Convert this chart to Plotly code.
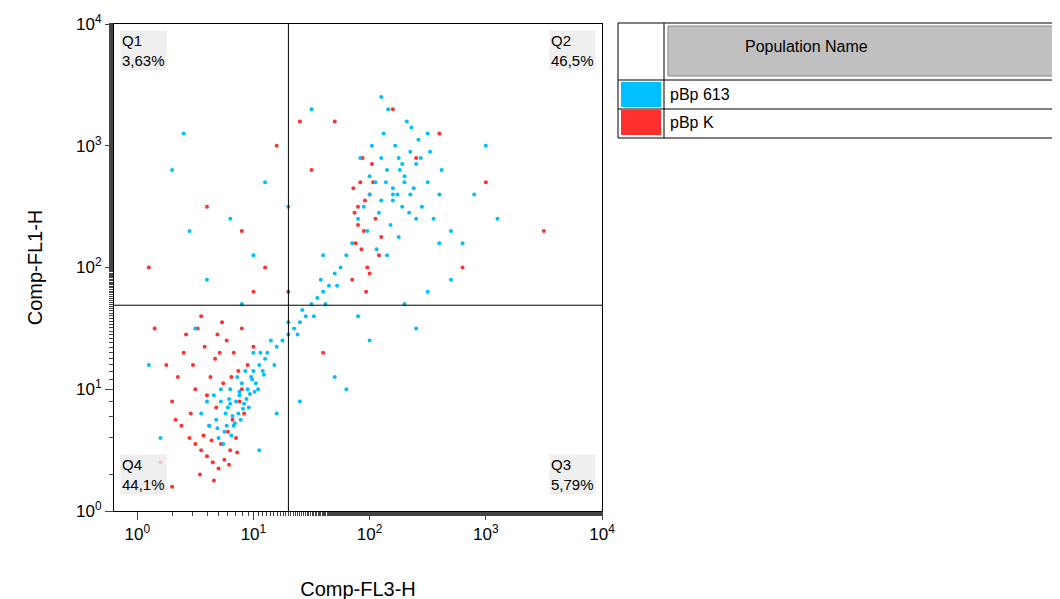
import plotly.graph_objects as go

# event positions, log10 units
blue_lx = [0.55, 0.62, 0.68, 0.72, 0.75, 0.78, 0.8, 0.82, 0.85, 0.88, 0.9, 0.92, 0.95, 0.98, 1.0, 1.02, 1.05, 1.08, 1.1, 1.12,
           0.7, 0.74, 0.77, 0.81, 0.84, 0.87, 0.91, 0.94, 0.97, 1.01, 0.66, 0.72, 0.79, 0.86, 0.93, 1.0, 1.06, 1.15, 1.18, 0.6,
           0.76, 0.83, 0.89, 0.96, 1.04, 0.69, 0.8, 0.88, 0.99, 1.09,
           1.2, 1.25, 1.3, 1.35, 1.4, 1.45, 1.5, 1.55, 1.6, 1.65, 1.7, 1.75, 1.3, 1.42, 1.52, 1.62, 1.72, 1.38, 1.58, 1.8,
           1.85, 1.9, 1.95, 2.0, 2.05, 2.1, 2.15, 2.2, 2.25, 2.3, 2.35, 2.4, 2.45, 2.5, 2.55, 2.6, 2.7, 2.8, 1.92, 2.02,
           2.12, 2.22, 2.32, 2.42, 2.52, 2.62, 2.08, 2.18, 2.28, 2.38, 2.14, 2.24, 2.34, 1.98, 2.26, 2.44, 2.16, 2.06, 2.36, 2.2,
           2.3, 2.1, 2.4, 2.25, 2.15, 2.0, 2.5, 2.35, 2.2, 2.28,
           0.3, 0.45, 0.6, 1.3, 1.6, 1.9, 2.3, 2.6, 2.9, 3.1, 1.0, 1.4, 0.5, 0.9, 1.7, 2.0, 2.5, 3.0, 1.2, 0.8,
           0.1, 0.4, 1.1, 1.5, 2.7, 0.2, 1.8, 2.1, 2.4, 1.05]
blue_ly = [0.8, 0.7, 0.75, 0.9, 0.65, 0.85, 1.0, 0.78, 0.9, 0.95, 1.05, 0.88, 1.0, 1.1, 1.15, 1.05, 1.2, 1.15, 1.25, 1.3,
           0.6, 0.55, 0.7, 0.62, 0.72, 0.8, 0.84, 0.92, 0.96, 0.98, 0.95, 1.0, 0.92, 1.1, 1.15, 1.3, 1.3, 1.4, 1.2, 0.9,
           0.8, 0.7, 0.75, 0.85, 1.0, 0.68, 0.88, 0.98, 1.08, 1.12,
           1.35, 1.4, 1.45, 1.5, 1.55, 1.6, 1.7, 1.75, 1.8, 1.85, 1.95, 2.0, 1.55, 1.65, 1.6, 1.7, 1.85, 1.45, 1.9, 2.1,
           2.2, 2.4, 2.5, 2.6, 2.7, 2.55, 2.8, 2.65, 2.9, 2.75, 2.6, 2.85, 2.5, 2.7, 2.4, 2.6, 2.3, 2.2, 2.9, 3.0,
           3.1, 3.0, 3.2, 3.05, 2.95, 2.8, 2.45, 2.35, 2.5, 2.65, 2.7, 2.6, 2.45, 2.3, 2.8, 2.9, 3.3, 2.15, 3.15, 2.55,
           2.7, 2.9, 2.4, 2.25, 2.1, 2.75, 3.1, 2.95, 2.6, 2.85,
           2.8, 2.3, 1.9, 2.5, 2.1, 1.6, 1.7, 2.2, 2.6, 2.4, 2.1, 0.9, 1.5, 1.7, 1.1, 1.4, 1.8, 3.0, 0.8, 2.4,
           1.2, 3.1, 2.7, 3.3, 1.9, 0.6, 1.0, 3.4, 1.5, 0.5]
red_lx = [0.3, 0.35, 0.4, 0.45, 0.5, 0.55, 0.6, 0.62, 0.65, 0.68, 0.7, 0.72, 0.75, 0.78, 0.8, 0.82, 0.85, 0.88, 0.9, 0.95,
          0.42, 0.48, 0.52, 0.58, 0.63, 0.67, 0.73, 0.77, 0.83, 0.87, 0.38, 0.46, 0.54, 0.6, 0.66, 0.71, 0.79, 0.86, 0.92, 1.0,
          0.25, 0.33, 0.5, 0.57, 0.64, 0.74, 0.81, 0.55, 0.69, 0.9,
          1.85, 1.88, 1.9, 1.92, 1.95, 1.98, 2.0, 2.02, 2.05, 1.87, 1.93, 1.97, 2.03, 2.08, 1.9, 1.96, 2.1, 1.86, 2.0, 1.94,
          0.15, 0.2, 0.1, 0.9, 1.1, 1.3, 1.5, 1.7, 2.2, 2.4, 2.6, 3.0, 1.2, 0.6, 0.3, 1.6, 2.8, 1.0, 3.5, 1.4]
red_ly = [0.9, 1.1, 1.3, 0.6, 1.0, 0.5, 0.45, 0.7, 0.4, 0.85, 0.35, 0.55, 0.42, 0.65, 0.5, 0.75, 0.6, 0.9, 1.0, 1.2,
          1.45, 1.2, 1.5, 1.35, 1.1, 1.25, 1.55, 1.4, 1.3, 1.15, 0.7, 0.8, 0.3, 0.95, 0.25, 1.3, 0.38, 0.48, 0.8, 1.35,
          1.2, 0.75, 0.55, 0.62, 0.58, 1.05, 1.1, 1.6, 1.45, 1.5,
          1.9, 2.2, 2.5, 2.7, 2.3, 2.0, 2.6, 2.85, 2.4, 2.45, 2.15, 1.8, 2.7, 2.1, 2.35, 2.55, 2.25, 2.65, 1.95, 2.9,
          1.5, 0.4, 2.0, 2.3, 2.0, 1.8, 2.8, 3.2, 3.3, 2.9, 3.1, 2.7, 3.0, 2.5, 0.2, 1.3, 2.0, 1.8, 2.3, 3.2]

quad_names = ["Q1", "Q2", "Q3", "Q4"]
quad_pcts = ["3,63%", "46,5%", "5,79%", "44,1%"]
pop_names = ["pBp 613", "pBp K"]
pop_colors = ["#00BFFF", "#FF3030"]
x_gate, y_gate = 20, 49

fig = go.Figure()
fig.add_trace(go.Scatter(x=[10 ** v for v in red_lx], y=[10 ** v for v in red_ly], mode="markers",
                         marker=dict(size=4, color=pop_colors[1]), showlegend=False))
fig.add_trace(go.Scatter(x=[10 ** v for v in blue_lx], y=[10 ** v for v in blue_ly], mode="markers",
                         marker=dict(size=4, color=pop_colors[0]), showlegend=False))

OX, OY = 4, 0  # page offset seen in the rendered output
L, R, T, B = 110 - OX, 598 - OX, 16 - OY, 503 - OY
def px(x): return (x - OX - L) / (R - L)
def py(y): return (B - (y - OY)) / (B - T)

shapes = [
    dict(type="line", xref="x", yref="paper", x0=x_gate, x1=x_gate, y0=0, y1=1, line=dict(color="black", width=1)),
    dict(type="line", xref="paper", yref="y", x0=0, x1=1, y0=y_gate, y1=y_gate, line=dict(color="black", width=1)),
]
annots = []
qpos = [(116, 22, "left"), (592, 22, "right"), (592, 446, "right"), (116, 446, "left")]
for (qx, qy, al), n, p in zip(qpos, quad_names, quad_pcts):
    annots.append(dict(x=px(qx), y=py(qy), xref="paper", yref="paper", text=n + "<br>" + p, showarrow=False,
                       xanchor=al, yanchor="top", align="left", bgcolor="rgba(235,235,235,0.8)",
                       font=dict(size=15, color="black")))

# legend table
shapes.append(dict(type="rect", xref="paper", yref="paper", x0=px(614), x1=px(1062), y0=py(130), y1=py(15),
                   line=dict(color="black", width=1)))
shapes.append(dict(type="rect", xref="paper", yref="paper", x0=px(664), x1=px(1062), y0=py(68), y1=py(18),
                   fillcolor="#c0c0c0", line=dict(color="#888", width=1)))
shapes.append(dict(type="line", xref="paper", yref="paper", x0=px(660), x1=px(660), y0=py(130), y1=py(15),
                   line=dict(color="black", width=1)))
for yl in [72, 101]:
    shapes.append(dict(type="line", xref="paper", yref="paper", x0=px(614), x1=px(1062), y0=py(yl), y1=py(yl),
                       line=dict(color="black", width=1)))
annots.append(dict(x=px(866), y=py(28), xref="paper", yref="paper", text="Population Name", showarrow=False,
                   font=dict(size=16, color="black")))
for i, (n, c) in enumerate(zip(pop_names, pop_colors)):
    y0, y1 = 74 + 28 * i, 99 + 28 * i
    shapes.append(dict(type="rect", xref="paper", yref="paper", x0=px(617), x1=px(657), y0=py(y1), y1=py(y0),
                       fillcolor=c, line=dict(width=0)))
    annots.append(dict(x=px(664), y=py((y0 + y1) / 2), xref="paper", yref="paper", text=n, showarrow=False,
                       xanchor="left", yanchor="middle", font=dict(size=16, color="black")))

tv = [1, 10, 100, 1000, 10000]
tt = ["10<sup>%d</sup>" % i for i in range(5)]
fig.update_layout(
    width=1060, height=599, plot_bgcolor="white", paper_bgcolor="white",
    margin=dict(l=L, r=1060 - R, t=T, b=599 - B, autoexpand=False),
    font=dict(family="Liberation Sans", size=17, color="black"),
    shapes=shapes, annotations=annots,
    xaxis=dict(type="log", range=[-0.2, 4], tickvals=tv, ticktext=tt, ticks="outside", ticklen=8,
               showline=True, linecolor="black", mirror=True, showgrid=False, automargin=False,
               minor=dict(ticks="outside", ticklen=4, showgrid=False),
               title=dict(text="Comp-FL3-H", standoff=38)),
    yaxis=dict(type="log", range=[0, 4], tickvals=tv, ticktext=tt, ticks="outside", ticklen=8,
               showline=True, linecolor="black", mirror=True, showgrid=False, automargin=False,
               minor=dict(ticks="outside", ticklen=4, showgrid=False),
               title=dict(text="Comp-FL1-H", standoff=28)),
)
fig.write_html("out.html")
